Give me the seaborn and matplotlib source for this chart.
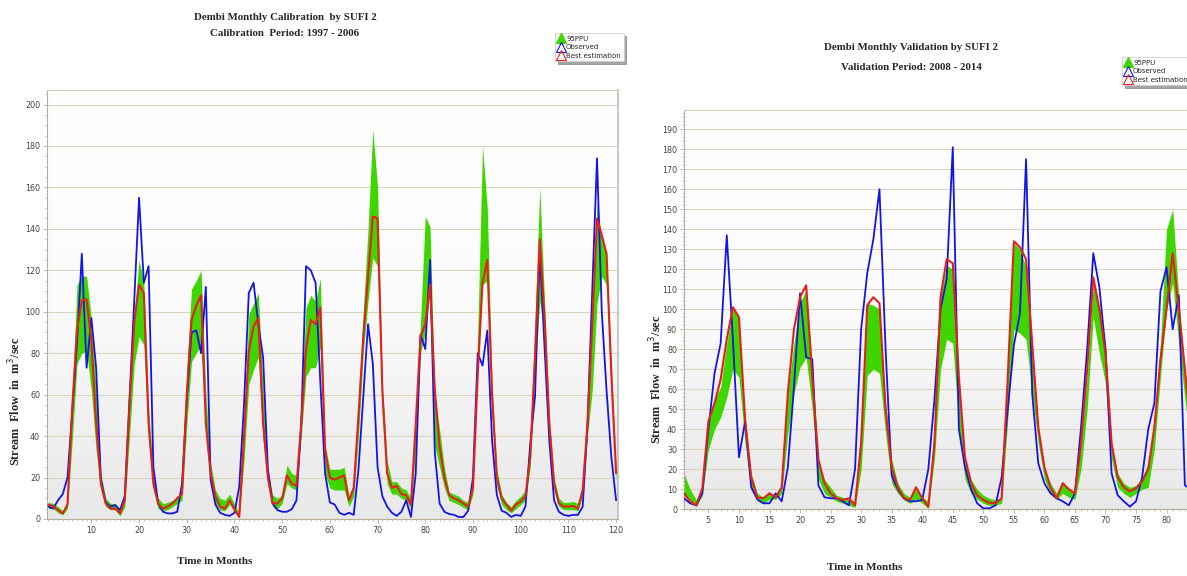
import numpy as np
import pandas as pd
import seaborn as sns
from matplotlib import pyplot as plt
from matplotlib.lines import Line2D
from matplotlib.colors import LinearSegmentedColormap

# ---- calibration 1997-2006 (120 months) ----
cal_obs = [6, 5, 9, 12, 20, 52, 85, 128, 73, 97, 73, 19,
           8, 6, 6.7, 4.3, 11, 58, 106, 155, 114, 122, 25, 7.5,
           3.5, 2.7, 2.7, 3.5, 17, 57, 90, 91, 80, 112, 19, 7,
           3, 2, 1.5, 3, 15.6, 55, 109, 114, 94, 78, 24, 7.5,
           4.3, 3.5, 3.5, 4.7, 9, 46, 122, 120, 114, 66, 22, 8,
           7, 3, 2, 3, 2, 24, 59, 94, 75, 25, 11, 6,
           3, 1.5, 3.5, 9, 1, 22, 89, 82, 125, 32, 7.5, 3.5,
           2.4, 2, 1, 1, 4, 20, 80, 74, 91, 38, 11.6, 4,
           3, 1, 2, 1.5, 6, 36, 59, 129, 83, 38, 9, 3.5,
           2, 1.5, 2, 2, 6, 45, 110, 174, 100, 62, 30, 9]
cal_best = [7, 6, 4.3, 2.7, 7, 54, 91, 105.5, 106, 86, 46, 17,
            7.5, 5, 5, 2.7, 9, 55, 95, 113, 109, 46, 17, 7.5,
            5, 6, 7.5, 10, 12, 60, 96, 103, 108, 46, 22, 11,
            6, 5, 9, 4.7, 1, 40, 81, 93, 97, 46, 20, 7.5,
            7.5, 10, 21, 17, 16, 46, 82, 96, 94, 102, 33, 20,
            19, 20, 21, 9, 15, 50, 88, 117, 146, 145, 62, 22,
            15, 16, 12, 11.5, 7, 46, 88, 94, 113, 62, 35, 20,
            11.5, 10, 9, 7.5, 6, 15, 70, 114, 125, 60, 20, 10,
            7, 4, 7, 8.4, 11, 30, 78, 135, 97, 46, 17, 7.5,
            6, 6, 6.3, 5, 14, 46, 94, 145, 137, 128, 70, 22]
cal_lo = [5, 5, 3, 2, 5, 38, 75, 80, 81, 62, 33, 14,
          6, 4.5, 4.5, 1.5, 6, 40, 75, 88, 84, 38, 14, 5,
          4, 4.5, 6, 7.5, 9, 45, 76, 80, 84, 40, 17, 7.5,
          4.3, 4, 7, 3.5, 0.5, 28, 65, 72, 78, 38, 16, 6,
          5, 7.5, 17, 15, 14, 40, 69, 73, 73, 83, 22, 15,
          14, 14, 14, 6, 11, 40, 80, 105, 126, 122, 50, 17,
          12, 12, 10, 9, 5, 35, 80, 90, 110, 35, 25, 15,
          9, 8, 7, 5.5, 4.5, 12, 75, 113, 115, 50, 16, 7,
          4.5, 3, 5, 7, 9, 25, 70, 105, 90, 38, 14, 6,
          4.5, 4.5, 4.5, 4, 11, 40, 62, 104, 117, 113, 65, 18]
cal_hi = [8, 7.5, 6, 4, 8, 62, 113, 117.5, 117, 97, 62, 22,
          10, 7.5, 7.5, 5, 12, 62, 100, 125, 114, 54, 20, 10,
          7.5, 8, 9, 10, 15, 72, 111, 115, 120, 60, 27, 14,
          10, 9, 12, 7, 3, 45, 99, 104, 109, 62, 24, 11.5,
          10, 11.5, 26, 22, 21, 55, 102, 108, 105, 116, 36, 24,
          24, 24, 25, 11, 17, 55, 100, 140, 188, 160, 65, 28,
          18, 18, 15, 14, 10, 48, 95, 146, 141, 60, 43, 25,
          13, 12, 11, 9, 8, 20, 90, 180, 150, 65, 24, 12,
          8, 6, 9, 11, 14, 40, 95, 160, 105, 50, 20, 10,
          8, 8, 8.5, 7.5, 17, 55, 95, 152, 136, 128, 75, 25]

# ---- validation 2008-2014 (84 months) ----
val_obs = [5.5, 3, 2, 8, 40, 68, 83, 137, 85, 26, 44, 11,
           5, 3, 3, 8, 4, 21, 61, 108, 76, 75, 12, 6,
           5.5, 5.5, 4, 2, 20, 90, 118, 135, 160, 80, 17, 10,
           5.5, 4, 4, 4.7, 20, 55, 100, 115, 181, 40, 21, 10,
           3, 0.5, 0.5, 2, 16, 50, 82, 98, 175, 58, 23, 13,
           8, 5.5, 4, 2, 8, 41, 80, 128, 111, 80, 18, 7,
           4, 1.3, 4, 16, 40, 53, 109, 121, 90, 107, 12, 10]
val_best = [8, 4, 2, 10.5, 44, 53, 65, 85, 101, 96, 45, 16,
            6, 5.5, 8, 6, 11, 58, 90, 106, 112, 66, 25, 13,
            8, 5.5, 4.7, 5.5, 2, 33, 102, 106, 103, 50, 21, 11,
            5.5, 4.7, 11, 5.5, 1.3, 33, 106, 125, 123, 66, 26, 13,
            7, 4.7, 3.3, 3, 5.5, 66, 134, 131, 125, 83, 41, 21,
            11, 5.5, 13, 10, 8, 33, 70, 116, 100, 78, 33, 16,
            11, 9, 10.5, 14, 20, 41, 75, 100, 128, 100, 70, 40]
val_lo = [8, 4.7, 1.3, 7, 30, 40, 46, 56, 70, 66, 33, 11,
          4, 3, 5, 5, 8, 38, 58, 71, 76, 50, 15, 8,
          6, 4, 3, 2, 1, 20, 67, 70, 68, 38, 13, 8,
          4.7, 3, 5, 3, 0.5, 25, 70, 85, 83, 41, 15, 8,
          5, 3, 2, 2, 3, 45, 90, 88, 85, 58, 33, 15,
          8, 5, 8, 6, 5, 20, 50, 96, 78, 63, 25, 11,
          8, 6, 8, 10, 11, 30, 66, 100, 113, 83, 55, 30]
val_hi = [18, 10, 4.7, 10.5, 43, 55, 61, 83, 100, 96, 45, 18,
          8, 6, 8, 7, 11, 58, 83, 103, 110, 73, 23, 15,
          11, 7, 6, 5, 4, 43, 103, 102, 100, 53, 25, 13,
          8, 6, 10, 6, 4, 41, 106, 122, 120, 66, 25, 15,
          10, 7, 5.5, 4.7, 6, 66, 133, 130, 121, 75, 41, 20,
          13, 8, 14, 10, 8, 33, 66, 113, 101, 83, 33, 18,
          13, 11, 12, 16, 23, 41, 83, 140, 150, 106, 70, 45]

cal_months = np.arange(1, len(cal_obs) + 1)
val_months = np.arange(1, len(val_obs) + 1)

GREEN = '#3fd600'
BLUE = '#1414e6'
RED = '#e4201c'
SERIF = ['Liberation Serif', 'DejaVu Serif']

sns.set_style('white')
plt.rcParams['font.family'] = ['DejaVu Sans']

fig = plt.figure(figsize=(11.87, 5.76), dpi=100)
W, H = 1187.0, 576.0

bg = LinearSegmentedColormap.from_list('bg', ['#ffffff', '#fbfbfb', '#e8e8e8'])


def panel(rect, months, obs, best, lo, hi, xlim, ylim, ymajor, yminor, xticks):
    ax = fig.add_axes(rect)
    grad = np.linspace(0, 1, 256).reshape(-1, 1)
    # white at the top, light grey at the bottom
    ax.imshow(grad, aspect='auto', cmap=bg, extent=[xlim[0], xlim[1], ylim[0], ylim[1]],
              zorder=0, origin='upper')
    for v in np.arange(0, ylim[1], ymajor):
        ax.axhline(v, color='#ddd5c3', lw=0.8, zorder=1)
    ax.fill_between(months, lo, hi, color=GREEN, lw=0, zorder=2)
    df = pd.DataFrame({'month': months, 'obs': obs, 'best': best})
    sns.lineplot(data=df, x='month', y='obs', ax=ax, color=BLUE, lw=1.3,
                 estimator=None, legend=False, zorder=3)
    sns.lineplot(data=df, x='month', y='best', ax=ax, color=RED, lw=1.5,
                 estimator=None, legend=False, zorder=4)
    ax.set_xlim(*xlim)
    ax.set_ylim(*ylim)
    ax.set_yticks(np.arange(0, ylim[1], ymajor))
    ax.set_yticks(np.arange(0, ylim[1], yminor), minor=True)
    ax.set_xticks(xticks)
    ax.set_xticks(months, minor=True)
    ax.tick_params(axis='both', which='major', labelsize=5.8, labelcolor='#444444',
                   color='#b8ae98', length=3, width=0.6, pad=2, direction='out',
                   left=True, bottom=True)
    ax.tick_params(axis='both', which='minor', color='#b8ae98', length=1.5, width=0.5,
                   left=True, bottom=True)
    ax.set_xlabel('')
    ax.set_ylabel('')
    for s in ax.spines.values():
        s.set_color('#d8d0bf')
        s.set_linewidth(0.8)
    ax.spines['left'].set_color('#b8ae98')
    ax.spines['bottom'].set_color('#b8ae98')
    ax.spines['right'].set_color('#bdbdbd')
    ax.spines['right'].set_linewidth(1.2)
    return ax


ax1 = panel([47 / W, 1 - 519 / H, 571 / W, 429 / H], cal_months, cal_obs, cal_best,
            cal_lo, cal_hi, (0.7, 120.4), (0, 207), 20, 5, np.arange(10, 121, 10))
ax2 = panel([684 / W, 1 - 509.3 / H, 507 / W, 399.3 / H], val_months, val_obs, val_best,
            val_lo, val_hi, (1, 84), (0, 199.6), 10, 2, np.arange(5, 81, 5))

handles = [Line2D([], [], ls='None', marker='^', ms=7, mfc=GREEN, mec=GREEN),
           Line2D([], [], ls='None', marker='^', ms=7, mfc='none', mec=BLUE, mew=0.8),
           Line2D([], [], ls='None', marker='^', ms=7, mfc='none', mec=RED, mew=0.8)]
labels = ['95PPU', 'Observed', 'Best estimation']
for ax, pos in [(ax1, (555, 33)), (ax2, (1122, 57))]:
    leg = ax.legend(handles, labels, loc='upper left',
                    bbox_to_anchor=(pos[0] / W, 1 - pos[1] / H), bbox_transform=fig.transFigure,
                    fontsize=5, frameon=True, fancybox=False, shadow=True, edgecolor='#cccccc',
                    handlelength=0.9, handletextpad=0.3, borderpad=0.4, labelspacing=0.35,
                    borderaxespad=0)
    leg.get_frame().set_linewidth(0.6)

# titles and axis labels
fig.text(285 / W, 1 - 17 / H, 'Dembi Monthly Calibration  by SUFI 2', ha='center', va='center',
         fontsize=7.8, fontweight='bold', family=SERIF)
fig.text(285 / W, 1 - 33 / H, 'Calibration  Period: 1997 - 2006', ha='center', va='center',
         fontsize=7.8, fontweight='bold', family=SERIF)
fig.text(911 / W, 1 - 48 / H, 'Dembi Monthly Validation by SUFI 2', ha='center', va='center',
         fontsize=7.8, fontweight='bold', family=SERIF)
fig.text(911 / W, 1 - 68 / H, 'Validation Period: 2008 - 2014', ha='center', va='center',
         fontsize=7.8, fontweight='bold', family=SERIF)

fig.text(15 / W, 1 - 401 / H, 'Stream  Flow  in  m$^3$/sec', rotation=90, ha='center',
         va='center', fontsize=8.8, fontweight='bold', family=SERIF)
fig.text(656 / W, 1 - 379 / H, 'Stream  Flow  in  m$^3$/sec', rotation=90, ha='center',
         va='center', fontsize=8.8, fontweight='bold', family=SERIF)
fig.text(215 / W, 1 - 561 / H, 'Time in Months', ha='center', va='center',
         fontsize=8, fontweight='bold', family=SERIF)
fig.text(865 / W, 1 - 567 / H, 'Time in Months', ha='center', va='center',
         fontsize=8, fontweight='bold', family=SERIF)

fig.savefig('out.png', dpi=100)
